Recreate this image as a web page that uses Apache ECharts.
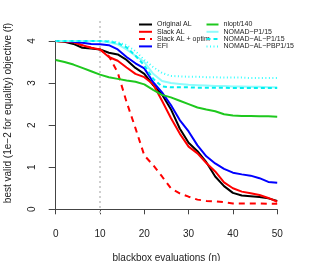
<!DOCTYPE html>
<html>
<head>
<meta charset="utf-8">
<script src="https://cdn.jsdelivr.net/npm/echarts@6/dist/echarts.min.js"></script>
<style>html,body{margin:0;padding:0;background:#fff}#c{width:313px;height:261px}</style>
</head>
<body>
<div id="c"></div>
<script>
const evals = [0,2,4,6,8,10,12,14,16,18,20,22,24,26,28,30,32,34,36,38,40,42,44,46,48,50];
const originalAL = [4.0,3.98,3.93,3.84,3.82,3.80,3.72,3.68,3.55,3.36,3.22,2.95,2.73,2.38,1.92,1.58,1.38,1.12,0.78,0.55,0.39,0.33,0.31,0.29,0.26,0.20];
const slackAL = [4.0,3.99,3.97,3.90,3.84,3.80,3.62,3.53,3.37,3.22,3.14,2.97,2.58,2.17,1.80,1.49,1.33,1.10,0.90,0.64,0.50,0.42,0.38,0.34,0.27,0.18];
const slackALoptim = [4.0,3.99,3.97,3.90,3.84,3.80,3.64,3.25,2.55,1.93,1.28,1.05,0.78,0.50,0.38,0.30,0.23,0.20,0.19,0.17,0.14,0.14,0.14,0.14,0.13,0.13];
const efi = [4.0,4.0,3.98,3.96,3.93,3.92,3.90,3.80,3.62,3.47,3.35,3.02,2.78,2.48,2.12,1.85,1.52,1.26,1.09,0.96,0.87,0.83,0.80,0.74,0.65,0.63];
const nlopt = [3.55,3.50,3.44,3.36,3.28,3.20,3.14,3.10,3.06,3.03,2.97,2.84,2.72,2.66,2.58,2.50,2.42,2.37,2.33,2.26,2.23,2.22,2.22,2.21,2.21,2.20];
const nomadP = [4.0,4.0,4.0,4.0,4.0,4.0,3.97,3.92,3.80,3.65,3.50,3.22,3.05,3.00,2.98,2.96,2.95,2.94,2.93,2.93,2.92,2.92,2.91,2.91,2.90,2.90];
const nomadALP = [4.0,4.0,4.0,4.0,4.0,4.0,3.99,3.95,3.85,3.65,3.42,3.10,2.92,2.90,2.90,2.90,2.89,2.89,2.89,2.89,2.88,2.88,2.88,2.88,2.88,2.88];
const nomadALPBP = [4.0,4.0,4.0,4.0,4.0,4.0,4.0,3.97,3.90,3.76,3.55,3.38,3.24,3.17,3.16,3.15,3.15,3.14,3.14,3.13,3.13,3.13,3.12,3.12,3.12,3.12];
const refLineX = [10];
const xTicks = [0,10,20,30,40,50];
const yTicks = [0,1,2,3,4];

const FONT = "'Liberation Sans', Arial, sans-serif";
function pts(arr){ return evals.map((x,i)=>[x,arr[i]]); }
function ln(name, arr, color, type, width){
  return { name, type:'line', xAxisIndex:0, yAxisIndex:0, data: pts(arr), symbol:'none', showSymbol:false,
    lineStyle:{ color, type, width }, itemStyle:{ color, opacity:0 }, animation:false, z:3 };
}
const chart = echarts.init(document.getElementById('c'), null, {renderer:'canvas'});
chart.setOption({
  animation:false,
  backgroundColor:'#fff',
  grid:[
    {left:55.7, right:35.8, top:41, bottom:51.7, outerBoundsMode:'none', containLabel:false},
    {left:55.7, right:35.8, top:20, bottom:48, outerBoundsMode:'none', containLabel:false}
  ],
  xAxis:[
    {type:'value', gridIndex:0, min:xTicks[0], max:xTicks[xTicks.length-1], interval:10, offset:5,
     axisLine:{show:true, lineStyle:{color:'#444', width:1}},
     axisTick:{show:true, length:5, lineStyle:{color:'#444'}},
     axisLabel:{color:'#222', fontSize:10, fontFamily:FONT, margin:15},
     splitLine:{show:false},
     name:'blackbox evaluations (n)', nameLocation:'middle', nameGap:39,
     nameTextStyle:{color:'#222', fontSize:10, fontFamily:FONT}},
    {type:'value', gridIndex:1, min:0, max:50, show:false}
  ],
  yAxis:[
    {type:'value', gridIndex:0, min:yTicks[0], max:yTicks[yTicks.length-1], interval:1, offset:3.7,
     axisLine:{show:true, lineStyle:{color:'#444', width:1}},
     axisTick:{show:true, length:7, lineStyle:{color:'#444'}},
     axisLabel:{color:'#222', fontSize:10, fontFamily:FONT, rotate:90, margin:15},
     splitLine:{show:false}},
    {type:'value', gridIndex:1, min:0, max:1, show:false}
  ],
  legend:[
    {orient:'vertical', left:138, top:21, padding:0, itemWidth:13, itemHeight:7, itemGap:0.3,
     itemStyle:{opacity:0},
     textStyle:{fontSize:7, lineHeight:7, fontFamily:FONT, color:'#222'},
     data:['Original AL','Slack AL','Slack AL + optim','EFI']},
    {orient:'vertical', left:205.5, top:21, padding:0, itemWidth:12, itemHeight:7, itemGap:0.3,
     itemStyle:{opacity:0},
     textStyle:{fontSize:7, lineHeight:7, fontFamily:FONT, color:'#222'},
     data:['nlopt/140','NOMAD\u2212P1/15','NOMAD\u2212AL\u2212P1/15','NOMAD\u2212AL\u2212PBP1/15']}
  ],
  graphic:[
    {type:'text', x:8.7, y:113, rotation:Math.PI/2,
     style:{text:'best valid (1e\u22122 for equality) objective (f)', font:'10px '+FONT, fill:'#222',
       textAlign:'center', textVerticalAlign:'middle'}}
  ],
  series:[
    {type:'line', xAxisIndex:1, yAxisIndex:1, data:[[refLineX[0],0],[refLineX[0],1]], symbol:'none',
     lineStyle:{color:'#cfcfcf', width:2, type:[2,3]}, silent:true, z:1},
    ln('Original AL', originalAL, '#000000', 'solid', 2),
    ln('Slack AL', slackAL, '#ff0000', 'solid', 2),
    ln('Slack AL + optim', slackALoptim, '#ff0000', [6,5], 2),
    ln('EFI', efi, '#0000ff', 'solid', 2),
    ln('nlopt/140', nlopt, '#1ec81e', 'solid', 2),
    ln('NOMAD\u2212P1/15', nomadP, '#8ffcfc', 'solid', 2),
    ln('NOMAD\u2212AL\u2212P1/15', nomadALP, '#00f0f0', [4,3], 2),
    ln('NOMAD\u2212AL\u2212PBP1/15', nomadALPBP, '#33ffff', [1,2.5], 2)
  ]
});
</script>
</body>
</html>
